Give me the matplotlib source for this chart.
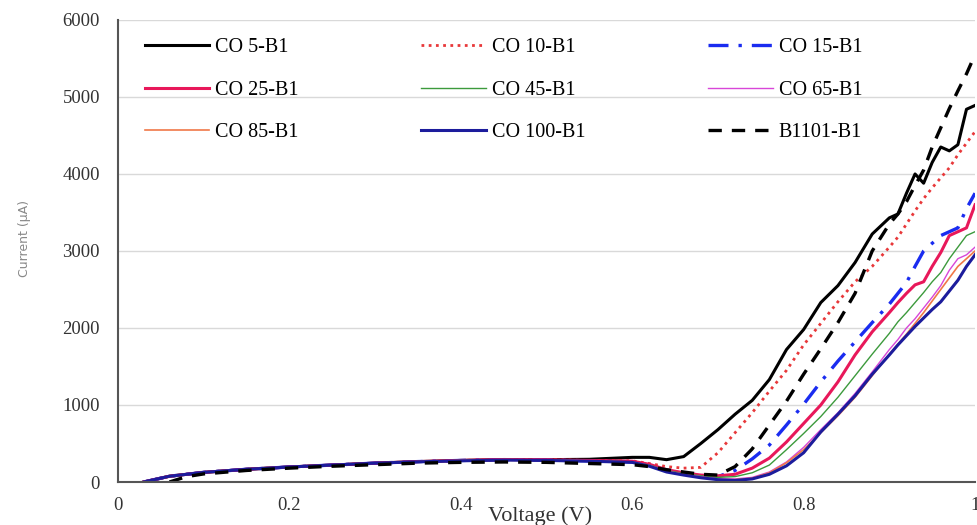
import matplotlib
matplotlib.use('Agg')
import matplotlib.pyplot as plt
import numpy as np

# voltage sweep (V) shared by every sample
voltage = [0.03, 0.06, 0.08, 0.10, 0.15, 0.20, 0.25, 0.30, 0.35, 0.40, 0.45,
           0.50, 0.55, 0.60, 0.62, 0.64, 0.66, 0.68, 0.70, 0.72, 0.74, 0.76,
           0.78, 0.80, 0.82, 0.84, 0.86, 0.88, 0.90, 0.91, 0.92, 0.93, 0.94,
           0.95, 0.96, 0.97, 0.98, 0.99, 1.00]

# current (uA) for each sample
co5 = [0, 75, 100, 125, 165, 195, 220, 245, 265, 280, 292, 290, 295, 320, 320,
       290, 330, 500, 680, 880, 1060, 1330, 1720, 1980, 2330, 2550, 2850, 3220,
       3430, 3480, 3750, 4000, 3880, 4150, 4350, 4300, 4380, 4840, 4890]
co10 = [0, 75, 100, 125, 165, 195, 220, 245, 265, 280, 292, 288, 280, 275, 240,
        200, 180, 190, 380, 640, 900, 1180, 1450, 1780, 2060, 2340, 2600, 2800,
        3050, 3180, 3350, 3520, 3680, 3820, 3950, 4080, 4250, 4400, 4550]
co15 = [0, 75, 100, 125, 165, 195, 220, 245, 265, 280, 290, 285, 275, 260, 220,
        150, 110, 80, 70, 150, 300, 480, 740, 1010, 1300, 1570, 1820, 2070,
        2310, 2450, 2590, 2800, 3000, 3100, 3200, 3250, 3300, 3550, 3750]
co25 = [0, 75, 100, 125, 165, 195, 220, 245, 265, 280, 292, 288, 280, 270, 230,
        160, 120, 90, 80, 100, 180, 310, 520, 760, 1000, 1300, 1650, 1950, 2200,
        2330, 2450, 2560, 2600, 2800, 2980, 3200, 3250, 3300, 3600]
co45 = [0, 75, 100, 125, 165, 195, 220, 245, 265, 280, 290, 285, 275, 260, 220,
        150, 110, 80, 60, 70, 120, 220, 420, 630, 850, 1100, 1380, 1660, 1930,
        2080, 2200, 2330, 2460, 2600, 2720, 2900, 3050, 3200, 3250]
co65 = [0, 75, 100, 125, 165, 195, 220, 245, 265, 280, 290, 285, 275, 260, 215,
        140, 100, 70, 40, 40, 60, 130, 260, 450, 680, 900, 1150, 1430, 1720,
        1850, 2000, 2120, 2260, 2400, 2550, 2750, 2900, 2950, 3050]
co85 = [0, 75, 100, 125, 165, 195, 220, 245, 265, 280, 290, 285, 275, 258, 210,
        140, 100, 60, 30, 30, 50, 120, 250, 420, 640, 860, 1100, 1380, 1660,
        1790, 1920, 2060, 2200, 2350, 2500, 2650, 2800, 2900, 3000]
co100 = [0, 75, 100, 125, 165, 195, 220, 245, 262, 275, 285, 280, 270, 255,
         205, 130, 90, 55, 30, 20, 40, 100, 210, 380, 650, 880, 1120, 1400,
         1650, 1780, 1900, 2020, 2130, 2240, 2340, 2480, 2620, 2800, 2950]
b1101 = [np.nan, 0, 70, 105, 150, 180, 205, 225, 245, 255, 260, 255, 240, 225,
         200, 160, 130, 100, 90, 200, 430, 740, 1050, 1400, 1730, 2070, 2450,
         3000, 3350, 3480, 3640, 3850, 4050, 4350, 4600, 4850, 5080, 5300, 5550]

series = [
    ('CO 5-B1', co5, dict(color='black', lw=2.2, ls='-')),
    ('CO 10-B1', co10, dict(color='#e8383a', lw=2.0, ls=(0, (1, 1.6)))),
    ('CO 15-B1', co15, dict(color='#1a2cf0', lw=2.4, ls=(0, (6, 3, 1, 3)))),
    ('CO 25-B1', co25, dict(color='#e8185a', lw=2.2, ls='-')),
    ('CO 45-B1', co45, dict(color='#3c9a3c', lw=1.0, ls='-')),
    ('CO 65-B1', co65, dict(color='#d846d8', lw=1.0, ls='-')),
    ('CO 85-B1', co85, dict(color='#f07848', lw=1.2, ls='-')),
    ('CO 100-B1', co100, dict(color='#1c1c9c', lw=2.2, ls='-')),
    ('B1101-B1', b1101, dict(color='black', lw=2.4, ls=(0, (4, 3)))),
]

plt.rcParams['font.family'] = ['Liberation Serif', 'DejaVu Serif']

fig = plt.figure(figsize=(9.77, 5.25), dpi=100)
ax = fig.add_axes([0.1208, 0.0819, 0.8772, 0.8801])

lines = []
for label, values, style in series:
    lines += ax.plot(voltage, values, label=label, **style)

ax.set_xlim(0, 1.0)
ax.set_ylim(0, 6000)
ax.set_xticks([0, 0.2, 0.4, 0.6, 0.8, 1.0])
ax.set_xticklabels(['0', '0.2', '0.4', '0.6', '0.8', '1'])
ax.set_yticks(range(0, 6001, 1000))
ax.tick_params(length=0, labelsize=13.5, colors='#333333', pad=11)
ax.tick_params(axis='y', pad=13)

ax.grid(axis='y', color='#d9d9d9', lw=1)
ax.set_axisbelow(True)
for side in ['top', 'right']:
    ax.spines[side].set_visible(False)
for side in ['left', 'bottom']:
    ax.spines[side].set_color('#555555')
    ax.spines[side].set_linewidth(1.5)

ax.set_xlabel('Voltage (V)', fontsize=16, color='#333333')
ax.xaxis.set_label_coords(0.492, -0.052)
ax.set_ylabel('Current (μA)', fontsize=9, color='#888888', family='DejaVu Sans')
ax.yaxis.set_label_coords(-0.101, 0.528)

# legend reads row by row, matplotlib fills column by column
order = [0, 3, 6, 1, 4, 7, 2, 5, 8]
ax.legend([lines[i] for i in order], [series[i][0] for i in order],
          ncol=3, frameon=False, loc='upper left',
          bbox_to_anchor=(0.148, 0.927), bbox_transform=fig.transFigure,
          borderpad=0, borderaxespad=0,
          fontsize=14.5, handlelength=3.2, handletextpad=0.3,
          columnspacing=6.1, labelspacing=1.15)

fig.savefig('out.png', dpi=100)
